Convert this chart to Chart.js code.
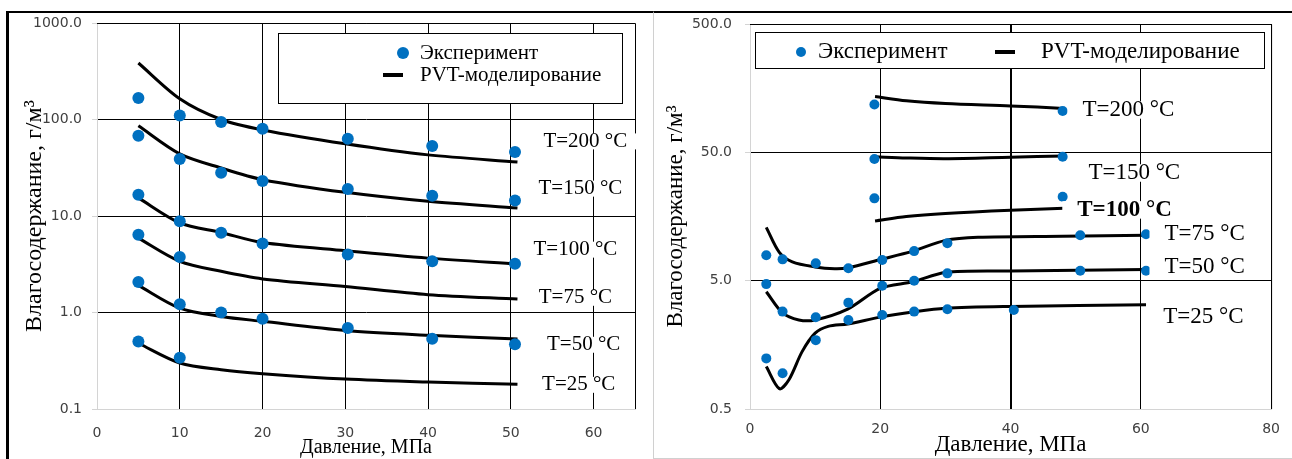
<!DOCTYPE html>
<html lang="ru">
<head>
<meta charset="utf-8">
<title>Влагосодержание газа</title>
<script src="https://cdn.jsdelivr.net/npm/chart.js@4.4.1/dist/chart.umd.min.js"></script>
<style>
    html, body { margin: 0; padding: 0; background: #fff; }
    body { width: 1292px; height: 459px; position: relative; overflow: hidden; }
    .frame-left { position: absolute; left: 6px; top: 11px; width: 700px; height: 460px; border-left: 3px solid #000; border-top: 2px solid #000; }
    .frame-right { position: absolute; left: 653px; top: 11px; width: 650px; height: 445px; border-top: 2px solid #000; border-left: 1px solid #d0d0d0; border-bottom: 1px solid #d0d0d0; }
    .chart-box { position: absolute; top: 0; height: 459px; }
    #left-box { left: 0; width: 650px; }
    #right-box { left: 653px; width: 639px; }
</style>
</head>
<body>
<div class="frame-left"></div>
<div class="frame-right"></div>
<div class="chart-box" id="left-box"><canvas id="leftChart" width="650" height="459"></canvas></div>
<div class="chart-box" id="right-box"><canvas id="rightChart" width="639" height="459"></canvas></div>

<script>
const temperatures = ['T=200 °C', 'T=150 °C', 'T=100 °C', 'T=75 °C', 'T=50 °C', 'T=25 °C'];

// ---- left chart: 5..50 MPa ----
const leftTicksX = [0, 10, 20, 30, 40, 50, 60];
const leftTicksY = [0.1, 1, 10, 100, 1000];

const leftExpPressure = [5, 10, 15, 20, 30.3, 40.5, 50.5];
const leftExpPressureShort = [5, 10];
const leftExp200 = [167, 110, 94, 80, 63, 53, 46];
const leftExp150 = [68, 39, 28, 23, 19, 16.2, 14.5];
const leftExp100 = [16.6, 8.8, 6.7, 5.2, 4.0, 3.4, 3.2];
const leftExp75 = [6.4, 3.75];
const leftExp50 = [2.07, 1.22, 1.0, 0.86, 0.69, 0.535, 0.47];
const leftExp25 = [0.5, 0.34];

const leftModelPressure = [5, 10, 15, 20, 30, 40, 50.8];
const leftModel200 = [385, 164, 100, 78, 56, 43, 36.3];
const leftModel150 = [86, 44, 31.4, 23.8, 17.6, 14.2, 12.1];
const leftModel100 = [15.4, 8.5, 6.75, 5.3, 4.36, 3.66, 3.18];
const leftModel75 = [5.9, 3.39, 2.67, 2.23, 1.86, 1.53, 1.38];
const leftModel50 = [1.91, 1.11, 0.91, 0.81, 0.65, 0.58, 0.53];
const leftModel25 = [0.48, 0.30, 0.255, 0.232, 0.204, 0.19, 0.18];

// ---- right chart: 2.5..60 MPa ----
const rightTicksX = [0, 20, 40, 60, 80];
const rightTicksY = [0.5, 5, 50, 500];

const rightExpPressureHigh = [19.1, 48];
const rightExp200 = [118, 105];
const rightExp150 = [44.3, 46.2];
const rightExp100 = [21.9, 22.5];
const rightExpPressure = [2.5, 5, 10.1, 15.1, 20.3, 25.2, 30.3, 50.7, 60.8];
const rightExp75 = [7.9, 7.33, 6.82, 6.24, 7.24, 8.5, 9.8, 11.3, 11.5];
const rightExp50 = [4.7, 2.87, 2.59, 3.37, 4.57, 4.99, 5.7, 5.97, 5.97];
const rightExpPressure25 = [2.5, 5, 10.1, 15.1, 20.3, 25.2, 30.3, 40.5];
const rightExp25 = [1.24, 0.95, 1.72, 2.47, 2.70, 2.87, 2.99, 2.95];

const rightModelPressureHigh = [19.2, 24, 30, 40, 48.2];
const rightModel200 = [136, 126, 120, 115, 110];
const rightModel150 = [46.2, 45.2, 44.6, 45.8, 46.8];
const rightModel100 = [14.6, 15.8, 16.7, 17.7, 18.3];
const rightModelPressure75 = [2.5, 4.5, 6.5, 10, 13, 15, 20, 25, 30, 35, 48, 60.8];
const rightModel75 = [13, 8.3, 7.0, 6.4, 6.2, 6.3, 7.3, 8.5, 10.3, 10.9, 11.1, 11.3];
const rightModelPressure50 = [2.5, 5, 7.5, 10, 15, 20, 25, 30, 40, 60.8];
const rightModel50 = [4.1, 2.8, 2.47, 2.47, 3.0, 4.35, 4.9, 5.8, 5.95, 6.1];
const rightModelPressure25 = [2.5, 4.5, 6, 8, 10, 12, 15, 20, 25, 30, 40, 60.8];
const rightModel25 = [1.07, 0.72, 0.85, 1.4, 1.95, 2.2, 2.3, 2.6, 2.85, 3.05, 3.15, 3.25];

const BLUE = '#0070C0';
const AXIS_GRAY = '#d4d4d4';
const TICK_TEXT = '#404040';
const SERIF = '"Liberation Serif", "Times New Roman", serif';
const SANS = '"DejaVu Sans", sans-serif';

function pts(xs, ys) {
    return ys.map((y, i) => ({ x: xs[i], y: y }));
}

function expSet(xs, ys, radius) {
    return {
        label: 'Эксперимент',
        data: pts(xs, ys),
        showLine: false,
        pointRadius: radius,
        pointBackgroundColor: BLUE,
        pointBorderWidth: 0
    };
}

function modelSet(xs, ys) {
    return {
        label: 'PVT-моделирование',
        data: pts(xs, ys),
        showLine: true,
        borderColor: '#000',
        borderWidth: 3,
        tension: 0.3,
        pointRadius: 0,
        fill: false
    };
}

// top and right edge of the plot area
const frameEdges = {
    id: 'frameEdges',
    beforeDatasetsDraw(chart) {
        const { ctx, chartArea: a } = chart;
        ctx.save();
        ctx.strokeStyle = '#000';
        ctx.lineWidth = 1;
        ctx.beginPath();
        ctx.moveTo(a.left, a.top + 0.5);
        ctx.lineTo(a.right + 0.5, a.top + 0.5);
        ctx.lineTo(a.right + 0.5, a.bottom);
        ctx.stroke();
        ctx.restore();
    }
};

// temperature captions next to the curves, on a white patch
const tempLabels = {
    id: 'tempLabels',
    afterDatasetsDraw(chart, args, opts) {
        const { ctx, scales } = chart;
        ctx.save();
        ctx.textBaseline = 'middle';
        ctx.textAlign = 'center';
        opts.items.forEach(item => {
            const px = scales.x.getPixelForValue(item.x);
            const py = scales.y.getPixelForValue(item.y);
            ctx.font = (item.bold ? 'bold ' : '') + opts.size + 'px ' + SERIF;
            const w = ctx.measureText(item.text).width;
            ctx.fillStyle = '#fff';
            ctx.fillRect(px - w / 2 - opts.pad, py - opts.size * 0.38, w + opts.pad * 2, opts.size * 0.76);
            ctx.fillStyle = '#000';
            ctx.fillText(item.text, px, py);
        });
        ctx.restore();
    }
};

// boxed legend inside the plot
const boxLegend = {
    id: 'boxLegend',
    afterDatasetsDraw(chart, args, opts) {
        const { ctx } = chart;
        const b = opts.box;
        ctx.save();
        ctx.fillStyle = '#fff';
        ctx.fillRect(b.x, b.y, b.w, b.h);
        ctx.strokeStyle = '#000';
        ctx.lineWidth = 1;
        ctx.strokeRect(b.x + 0.5, b.y + 0.5, b.w, b.h);
        ctx.font = opts.size + 'px ' + SERIF;
        ctx.textBaseline = 'middle';
        ctx.textAlign = 'left';
        opts.items.forEach(item => {
            if (item.kind === 'dot') {
                ctx.fillStyle = BLUE;
                ctx.beginPath();
                ctx.arc(item.mx, item.y, item.r, 0, Math.PI * 2);
                ctx.fill();
            } else {
                ctx.strokeStyle = '#000';
                ctx.lineWidth = 4;
                ctx.beginPath();
                ctx.moveTo(item.mx - 10, item.y);
                ctx.lineTo(item.mx + 10, item.y);
                ctx.stroke();
            }
            ctx.fillStyle = '#000';
            ctx.fillText(item.text, item.tx, item.y);
        });
        ctx.restore();
    }
};

function buildOptions(cfg) {
    return {
        responsive: false,
        animation: false,
        events: [],
        layout: { padding: cfg.padding },
        scales: {
            x: {
                type: 'linear',
                min: cfg.xMin,
                max: cfg.xMax,
                afterBuildTicks: s => { s.ticks = cfg.ticksX.map(v => ({ value: v })); },
                afterFit: s => { s.height = 50; },
                grid: {
                    color: c => (c.tick && c.tick.value === cfg.xMin) ? AXIS_GRAY : '#000',
                    lineWidth: c => (c.tick && c.tick.value === cfg.thickX) ? 2 : 1,
                    drawTicks: false
                },
                border: { color: AXIS_GRAY },
                ticks: {
                    padding: cfg.xTickPad,
                    color: TICK_TEXT,
                    font: { family: SANS, size: 14 },
                    maxRotation: 0,
                    autoSkip: false
                },
                title: {
                    display: true,
                    text: 'Давление, МПа',
                    color: '#000',
                    font: { family: SERIF, size: cfg.titleSize, lineHeight: 1.1 },
                    padding: { top: 0, bottom: cfg.xTitlePad }
                }
            },
            y: {
                type: 'logarithmic',
                min: cfg.yMin,
                max: cfg.yMax,
                afterBuildTicks: s => { s.ticks = cfg.ticksY.map(v => ({ value: v })); },
                afterFit: s => { s.width = 97; },
                grid: {
                    color: c => (c.tick && c.tick.value === cfg.yMin) ? AXIS_GRAY : '#000',
                    tickColor: AXIS_GRAY,
                    tickLength: 5
                },
                border: { color: AXIS_GRAY },
                ticks: {
                    padding: cfg.yTickPad,
                    color: TICK_TEXT,
                    font: { family: SANS, size: 14 },
                    callback: v => Number(v).toFixed(1)
                },
                title: {
                    display: true,
                    text: 'Влагосодержание, г/м³',
                    color: '#000',
                    font: { family: SERIF, size: cfg.yTitleSize, lineHeight: 1.2 },
                    padding: { top: cfg.yTitlePad }
                }
            }
        },
        plugins: {
            legend: { display: false },
            tooltip: { enabled: false },
            tempLabels: cfg.labels,
            boxLegend: cfg.legend
        }
    };
}

new Chart(document.getElementById('leftChart'), {
    type: 'scatter',
    data: {
        datasets: [
            expSet(leftExpPressure, leftExp200, 6),
            expSet(leftExpPressure, leftExp150, 6),
            expSet(leftExpPressure, leftExp100, 6),
            expSet(leftExpPressureShort, leftExp75, 6),
            expSet(leftExpPressure, leftExp50, 6),
            expSet(leftExpPressureShort, leftExp25, 6),
            modelSet(leftModelPressure, leftModel200),
            modelSet(leftModelPressure, leftModel150),
            modelSet(leftModelPressure, leftModel100),
            modelSet(leftModelPressure, leftModel75),
            modelSet(leftModelPressure, leftModel50),
            modelSet(leftModelPressure, leftModel25)
        ]
    },
    options: buildOptions({
        padding: { left: 0, top: 23, right: 15, bottom: 0 },
        xMin: 0, xMax: 65, ticksX: leftTicksX, thickX: null,
        yMin: 0.1, yMax: 1000, ticksY: leftTicksY,
        xTickPad: 16, yTickPad: 10,
        titleSize: 20, xTitlePad: 0,
        yTitleSize: 24, yTitlePad: 20,
        labels: {
            size: 21, pad: 10,
            items: [
                { text: temperatures[0], x: 59.0, y: 59.3 },
                { text: temperatures[1], x: 58.4, y: 19.2 },
                { text: temperatures[2], x: 57.8, y: 4.48 },
                { text: temperatures[3], x: 57.8, y: 1.42 },
                { text: temperatures[4], x: 58.8, y: 0.463 },
                { text: temperatures[5], x: 58.2, y: 0.178 }
            ]
        },
        legend: {
            size: 21,
            box: { x: 278, y: 33, w: 344, h: 70 },
            items: [
                { kind: 'dot', r: 6, mx: 403, y: 53, tx: 420, text: 'Эксперимент' },
                { kind: 'line', mx: 393, y: 75, tx: 420, text: 'PVT-моделирование' }
            ]
        }
    }),
    plugins: [frameEdges, tempLabels, boxLegend]
});

new Chart(document.getElementById('rightChart'), {
    type: 'scatter',
    data: {
        datasets: [
            expSet(rightExpPressureHigh, rightExp200, 5),
            expSet(rightExpPressureHigh, rightExp150, 5),
            expSet(rightExpPressureHigh, rightExp100, 5),
            expSet(rightExpPressure, rightExp75, 5),
            expSet(rightExpPressure, rightExp50, 5),
            expSet(rightExpPressure25, rightExp25, 5),
            modelSet(rightModelPressureHigh, rightModel200),
            modelSet(rightModelPressureHigh, rightModel150),
            modelSet(rightModelPressureHigh, rightModel100),
            modelSet(rightModelPressure75, rightModel75),
            modelSet(rightModelPressure50, rightModel50),
            modelSet(rightModelPressure25, rightModel25)
        ]
    },
    options: buildOptions({
        padding: { left: 0, top: 24, right: 19, bottom: 0 },
        xMin: 0, xMax: 80, ticksX: rightTicksX, thickX: 40,
        yMin: 0.5, yMax: 500, ticksY: rightTicksY,
        xTickPad: 12, yTickPad: 13,
        titleSize: 23, xTitlePad: 1,
        yTitleSize: 23, yTitlePad: 9,
        labels: {
            size: 23, pad: 15,
            items: [
                { text: temperatures[0], x: 58.1, y: 107 },
                { text: temperatures[1], x: 59.0, y: 34.5 },
                { text: temperatures[2], x: 57.5, y: 17.8, bold: true },
                { text: temperatures[3], x: 69.8, y: 11.5 },
                { text: temperatures[4], x: 69.8, y: 6.38 },
                { text: temperatures[5], x: 69.6, y: 2.62 }
            ]
        },
        legend: {
            size: 23,
            box: { x: 102, y: 32, w: 509, h: 36 },
            items: [
                { kind: 'dot', r: 5, mx: 148, y: 52, tx: 165, text: 'Эксперимент' },
                { kind: 'line', mx: 352, y: 52, tx: 388, text: 'PVT-моделирование' }
            ]
        }
    }),
    plugins: [frameEdges, tempLabels, boxLegend]
});
</script>
</body>
</html>
